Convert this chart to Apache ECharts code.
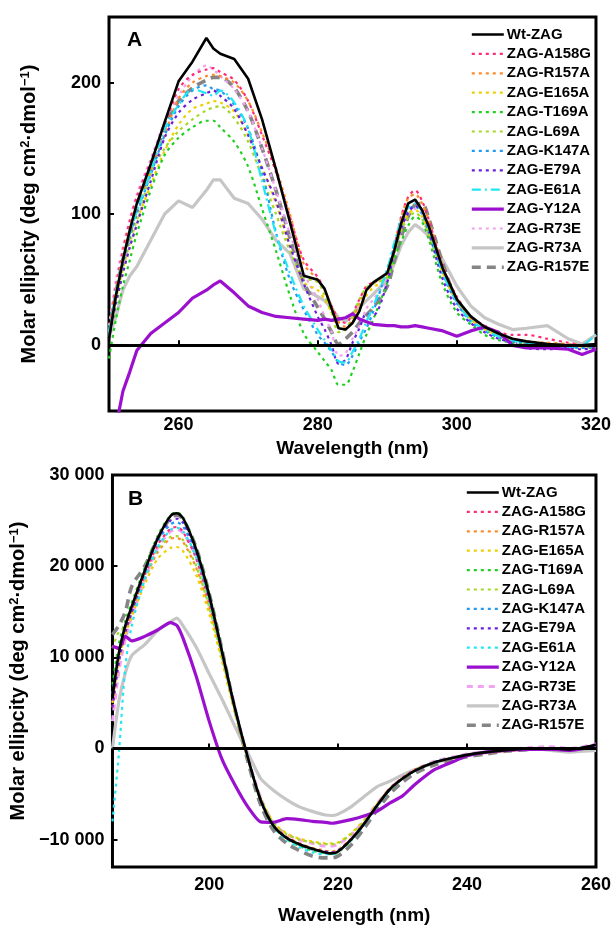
<!DOCTYPE html>
<html>
<head>
<meta charset="utf-8">
<script src="https://cdn.jsdelivr.net/npm/echarts@6/dist/echarts.min.js"></script>
<style>
html,body{margin:0;padding:0;background:#fff;}
#chart{width:614px;height:926px;}
</style>
</head>
<body>
<div id="chart"></div>
<script>
// ---------- data ----------
const seriesNames = ['Wt-ZAG','ZAG-A158G','ZAG-R157A','ZAG-E165A','ZAG-T169A','ZAG-L69A','ZAG-K147A','ZAG-E79A','ZAG-E61A','ZAG-Y12A','ZAG-R73E','ZAG-R73A','ZAG-R157E'];

// Panel A (near-UV)
const wlA = [250,251,252,253,254,256,258,260,262,264,265,266,268,270,272,274,276,278,280,281,282,283,284,285,286,287,288,290,291,292,293,294,295,296,298,300,302,304,306,308,310,313,316,318,320];
const wtA    = [5,38,65,88,108,138,170,201,216,234,226,222,218,203,172,134,94,53,50,43,28,13,12,17,26,42,48,55,72,93,108,111,103,90,58,35,22,14,9,5,3,1,0,0,1];
const a158gA = [10,45,72,95,113,140,168,195,206,210,211,208,202,186,160,132,98,65,52,42,30,20,17,24,35,45,48,55,75,98,113,118,110,95,60,37,22,15,10,8,8,5,2,0,-2];
const r157aA = [10,42,68,90,108,133,160,188,200,205,206,205,200,186,162,135,100,62,50,42,30,18,14,20,32,42,47,55,75,97,112,115,108,95,60,36,21,14,9,5,3,2,1,0,-1];
const e165aA = [8,35,58,78,95,122,148,168,180,184,186,185,178,160,135,108,75,48,42,35,25,13,12,18,28,38,44,52,70,88,100,103,98,85,55,33,20,12,8,5,3,1,0,-1,-1];
const t169aA = [-10,20,45,65,85,118,145,158,166,171,171,166,155,136,104,72,38,9,-5,-12,-19,-30,-30,-20,-6,8,20,48,66,79,91,98,94,80,46,25,16,8,4,2,1,0,-1,-2,-2];
const l69aA  = [5,30,55,75,92,131,150,163,172,179,181,182,173,155,128,100,72,52,48,38,25,10,12,22,35,44,47,52,70,87,97,101,96,84,55,33,19,12,7,4,2,1,0,-1,-2];
const k147aA = [8,38,62,82,100,130,160,182,194,198,195,194,183,165,132,86,50,27,8,2,-5,-13,-15,-8,3,13,26,58,75,91,103,106,100,86,54,32,18,11,6,3,2,0,-1,-2,-1];
const e79aA  = [5,32,55,75,92,125,158,177,187,192,194,190,180,160,135,110,76,47,22,12,0,-14,-11,2,13,24,23,48,72,89,101,106,103,86,50,28,17,10,5,2,-2,-3,-2,-3,-2];
const e61aA  = [10,40,65,85,102,132,165,183,195,192,190,194,185,165,125,85,55,30,12,4,-4,-12,-13,-5,5,18,30,58,78,95,105,108,102,88,55,33,19,12,7,4,2,0,-1,0,8];
const y12aA  = [-100,-62,-35,-20,-4,9,17,25,36,42,46,49,40,30,25,22,21,20,19,20,19,20,21,24,20,18,16,15,15,14,14,15,14,13,11,7,11,14,10,0,-2,-2,-3,-7,-3];
const r73eA  = [15,50,75,96,115,142,170,190,205,213,210,205,195,178,150,118,85,55,35,22,10,-8,-6,5,15,28,35,50,70,90,100,104,100,88,58,34,20,12,7,4,2,1,0,-1,-1];
const r73aA  = [6,22,42,53,60,80,100,110,105,118,126,126,112,108,96,80,70,43,37,34,28,21,18,24,29,34,39,50,62,76,86,92,88,83,65,45,30,21,16,12,13,15,5,1,8];
const r157eA = [8,40,65,85,105,135,166,186,196,202,204,204,196,178,150,118,82,48,29,20,10,1,5,10,17,23,29,45,64,82,98,107,108,96,62,34,22,14,8,4,2,1,0,0,0];
const valuesA = [wtA,a158gA,r157aA,e165aA,t169aA,l69aA,k147aA,e79aA,e61aA,y12aA,r73eA,r73aA,r157eA];
const xTicksA = [260,280,300,320];
const yTicksA = [0,100,200];

// Panel B (far-UV)
const wlB = [185,186,187,188,190,192,194,195,196,198,200,202,204,206,208,210,212,214,216,218,219,220,222,224,226,228,230,232,235,238,240,243,246,250,253,256,258,260];
const wtB    = [5500,10500,13500,15600,19500,23000,25500,25800,25200,21800,16800,10600,4400,-1000,-5700,-8500,-9800,-10500,-11000,-11400,-11500,-11300,-10000,-8300,-6300,-4500,-3300,-2400,-1500,-1000,-700,-400,-200,0,0,-100,100,400];
const a158gB = [5000,10000,13000,15200,19000,22300,24100,24300,23700,20800,16000,10200,4200,-1100,-5600,-8400,-9700,-10400,-11000,-11300,-11400,-11200,-9900,-8200,-6200,-4400,-3200,-2300,-1500,-1000,-700,-400,-200,0,0,-100,100,300];
const r157aB = [4500,9500,12500,14800,18500,21500,23000,23100,22600,19800,15300,9800,4000,-1200,-5600,-8400,-9700,-10400,-10900,-11200,-11300,-11100,-9900,-8200,-6200,-4500,-3300,-2400,-1500,-1100,-800,-500,-300,-100,0,-100,0,200];
const e165aB = [5000,9800,12500,14500,18000,20800,22000,22100,21600,19000,14800,9500,3900,-1200,-5400,-8100,-9300,-9900,-10200,-10400,-10400,-10300,-9300,-7900,-6100,-4400,-3200,-2300,-1500,-1000,-700,-400,-200,0,0,-100,100,300];
const t169aB = [7000,11500,14000,16000,19800,23300,25600,25900,25300,22000,17000,10800,4500,-1000,-5700,-8600,-9900,-10700,-11200,-11500,-11600,-11400,-10100,-8300,-6300,-4500,-3300,-2400,-1500,-1000,-700,-400,-200,0,0,0,100,300];
const l69aB  = [11000,12800,13300,15000,18600,21800,23200,23300,22800,20000,15500,9900,4100,-1200,-5500,-8200,-9400,-10000,-10300,-10500,-10500,-10400,-9400,-8000,-6200,-4500,-3300,-2400,-1500,-1000,-700,-400,-200,0,0,-100,100,300];
const k147aB = [6000,10500,13300,15300,19200,22700,24600,24800,24300,21300,16500,10500,4400,-1000,-5600,-8500,-9800,-10600,-11100,-11400,-11500,-11300,-10000,-8300,-6300,-4500,-3300,-2400,-1500,-1000,-700,-400,-200,0,0,-100,100,300];
const e79aB  = [4500,9500,12800,15000,19300,23000,25000,25200,24700,21600,16700,10600,4400,-1000,-5600,-8500,-9800,-10500,-11000,-11300,-11400,-11200,-10000,-8300,-6300,-4500,-3300,-2400,-1500,-1000,-700,-400,-200,0,0,-100,100,300];
const e61aB  = [-8000,-500,9000,13500,18500,22000,24000,24200,23800,21000,16300,10400,4300,-1100,-5700,-8600,-10000,-10800,-11400,-11600,-11600,-11300,-10100,-8400,-6400,-4600,-3300,-2400,-1500,-1000,-700,-400,-200,0,0,-100,100,300];
const y12aB  = [11200,11000,12300,11800,12300,13000,13800,13500,12000,7900,3000,-1200,-4000,-6400,-8050,-8100,-7700,-7800,-8000,-8100,-8200,-8100,-7800,-7400,-6900,-6000,-5200,-3900,-2300,-1400,-800,-400,-200,-100,-100,-200,0,400];
const r73eB  = [3000,8500,12000,14500,18500,22000,23800,24000,23600,21000,16500,10600,4500,-900,-5400,-8200,-9400,-10000,-10400,-10700,-10700,-10500,-9500,-7900,-6100,-4400,-3200,-2300,-1400,-900,-600,-300,-100,100,200,0,200,500];
const r73aB  = [0,5200,8300,10200,11400,12900,13900,14300,13400,11100,8200,5400,2400,-500,-3300,-4600,-5600,-6400,-6900,-7300,-7350,-7200,-6400,-5300,-4200,-3600,-2900,-2300,-1600,-1000,-700,-400,-200,0,-200,-400,-300,-200];
const r157eB = [12500,13500,15000,17800,20000,23000,25300,25600,25100,22000,17000,10800,4300,-1400,-6200,-9000,-10400,-11200,-11800,-12000,-12000,-11800,-10600,-8800,-6800,-5000,-3700,-2700,-1800,-1200,-900,-600,-300,-100,0,-100,0,200];
const valuesB = [wtB,a158gB,r157aB,e165aB,t169aB,l69aB,k147aB,e79aB,e61aB,y12aB,r73eB,r73aB,r157eB];
const xTicksB = [200,220,240,260];
const yTicksB = [-10000,0,10000,20000,30000];

// ---------- styles ----------
const FONT = "'Liberation Sans', Arial, Helvetica, sans-serif";
const styleA = [
  {color:'#000000', width:2.6, type:'solid', smooth:false},
  {color:'#ff2a78', width:2.2, type:[3,4], smooth:0.3},
  {color:'#ff8a2a', width:2.2, type:[3,4], smooth:0.3},
  {color:'#ecd000', width:2.2, type:[3,4], smooth:0.3},
  {color:'#20d020', width:2.2, type:[3,4], smooth:0.3},
  {color:'#a4d824', width:2.2, type:[3,4], smooth:0.3},
  {color:'#1f9af5', width:2.2, type:[3,4], smooth:0.3},
  {color:'#6a1fe0', width:2.2, type:[3,4], smooth:0.3},
  {color:'#22e6f2', width:2.2, type:[9,4,2,4], smooth:0.3},
  {color:'#9b10cf', width:3.2, type:'solid', smooth:false},
  {color:'#f2a2f2', width:2.2, type:[3,4], smooth:0.3},
  {color:'#c6c6c6', width:3.2, type:'solid', smooth:false},
  {color:'#858585', width:3.6, type:[9,6], smooth:0.3}
];
const styleB = styleA.map((s, i) => {
  const c = Object.assign({}, s);
  if (i === 8) c.type = [3,4];
  if (i === 10) { c.type = [6,5]; c.width = 3; }
  c.smooth = (i === 9 || i === 11) ? 0.2 : 0.3;
  if (i === 0) c.smooth = 0.3;
  return c;
});
// draw order (later = on top)
const drawOrder = [11,12,10,1,2,3,4,5,6,7,8,9,0];

const chart = echarts.init(document.getElementById('chart'), null, {renderer:'canvas'});

function fmtB(v) {
  if (v === 0) return '0';
  const s = String(Math.abs(v)).replace(/\B(?=(\d{3})+(?!\d))/g, ' ');
  return (v < 0 ? '\u2212' : '') + s;
}

function buildSeries(panel) {
  const wl = panel === 0 ? wlA : wlB;
  const vals = panel === 0 ? valuesA : valuesB;
  const sty = panel === 0 ? styleA : styleB;
  const suffix = panel === 0 ? '' : '\u200b';
  const out = [];
  drawOrder.forEach(i => {
    const s = {
      type:'line',
      name: seriesNames[i] + suffix,
      xAxisIndex: panel, yAxisIndex: panel,
      data: wl.map((x, k) => [x, vals[i][k]]),
      showSymbol:false, symbol:'none',
      smooth: sty[i].smooth,
      clip:true,
      lineStyle:{color:sty[i].color, width:sty[i].width, type:sty[i].type},
      itemStyle:{color:sty[i].color},
      emphasis:{disabled:true},
      z: 2
    };
    if (i === 0) {
      s.markLine = {
        silent:true, symbol:['none','none'], label:{show:false},
        lineStyle:{color:'#000', width:3, type:'solid'},
        data:[{yAxis:0}], animation:false
      };
    }
    out.push(s);
  });
  return out;
}

const yName = '{t|Molar ellipcity (deg cm}{s|2}{t|\u00b7dmol}{s|\u22121}{t|)}';
const nameRich = {
  t:{fontSize:20, fontWeight:'bold', fontFamily:FONT, color:'#000'},
  s:{fontSize:13, fontWeight:'bold', fontFamily:FONT, color:'#000', verticalAlign:'top'}
};

function legendFor(panel, left, top) {
  const suffix = panel === 0 ? '' : '\u200b';
  return {
    orient:'vertical', left:left, top:top, padding:0,
    data: seriesNames.map(n => n + suffix),
    itemWidth:32, itemHeight:14, itemGap:4.4,
    itemStyle:{opacity:0, borderWidth:0},
    lineStyle:{width:'inherit', type:'inherit', color:'inherit'},
    formatter: n => n.replace('\u200b',''),
    textStyle:{fontSize:15, fontWeight:'bold', fontFamily:FONT, color:'#000', padding:[0,0,0,-2]},
    selectedMode:true
  };
}

const axisTextStyle = {fontSize:18, fontWeight:'bold', fontFamily:FONT, color:'#000'};

const option = {
  animation:false,
  backgroundColor:'#fff',
  grid:[
    {left:109, top:17, width:488, height:394, show:true, borderColor:'#000', borderWidth:3, backgroundColor:'transparent'},
    {left:110, top:475, width:487, height:394, show:true, borderColor:'#000', borderWidth:3, backgroundColor:'transparent'}
  ],
  legend:[ legendFor(0, 470, 27), legendFor(1, 465, 485) ],
  xAxis:[
    {type:'value', gridIndex:0, min:250, max:320,
     axisLine:{show:false}, splitLine:{show:false},
     axisTick:{show:true, inside:true, length:5, lineStyle:{color:'#000', width:2}, customValues:xTicksA},
     axisLabel:Object.assign({customValues:xTicksA, margin:5}, axisTextStyle),
     name:'Wavelength (nm)', nameLocation:'middle', nameGap:28,
     nameTextStyle:{fontSize:19, fontWeight:'bold', fontFamily:FONT, color:'#000'}},
    {type:'value', gridIndex:1, min:185, max:260,
     axisLine:{show:false}, splitLine:{show:false},
     axisTick:{show:true, inside:true, length:5, lineStyle:{color:'#000', width:2}, customValues:xTicksB},
     axisLabel:Object.assign({customValues:xTicksB, margin:9}, axisTextStyle),
     name:'Wavelength (nm)', nameLocation:'middle', nameGap:39,
     nameTextStyle:{fontSize:19, fontWeight:'bold', fontFamily:FONT, color:'#000'}}
  ],
  yAxis:[
    {type:'value', gridIndex:0, min:-50, max:250,
     axisLine:{show:false}, splitLine:{show:false},
     axisTick:{show:true, inside:true, length:5, lineStyle:{color:'#000', width:2}, customValues:yTicksA},
     axisLabel:Object.assign({customValues:yTicksA, margin:8}, axisTextStyle),
     name:yName, nameLocation:'middle', nameGap:70, nameRotate:90,
     nameTextStyle:{rich:nameRich}},
    {type:'value', gridIndex:1, min:-13000, max:30000,
     axisLine:{show:false}, splitLine:{show:false},
     axisTick:{show:true, inside:true, length:5, lineStyle:{color:'#000', width:2}, customValues:yTicksB},
     axisLabel:Object.assign({customValues:yTicksB, margin:8, formatter:fmtB}, axisTextStyle),
     name:yName, nameLocation:'middle', nameGap:74, nameRotate:90,
     nameTextStyle:{rich:nameRich}}
  ],
  graphic:[
    {type:'text', left:127, top:30, style:{text:'A', fontSize:21, fontWeight:'bold', fontFamily:FONT, fill:'#000'}},
    {type:'text', left:128, top:489, style:{text:'B', fontSize:21, fontWeight:'bold', fontFamily:FONT, fill:'#000'}}
  ],
  series: buildSeries(0).concat(buildSeries(1))
};
chart.setOption(option);
</script>
</body>
</html>
